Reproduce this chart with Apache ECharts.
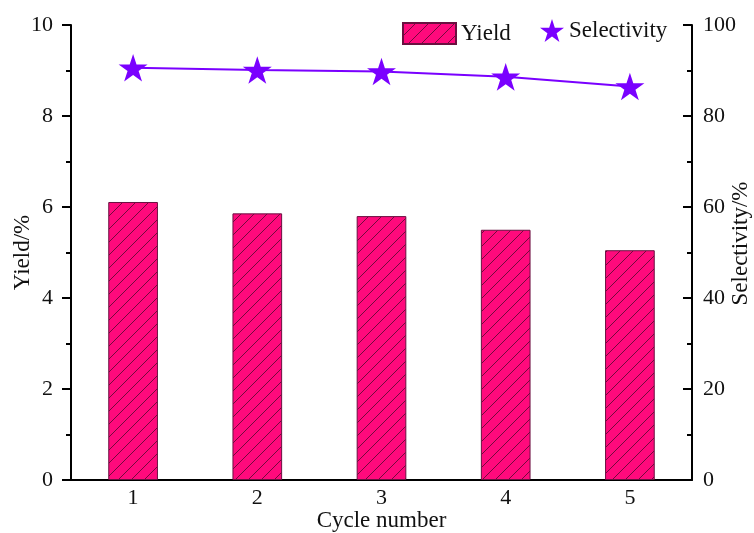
<!DOCTYPE html>
<html>
<head>
<meta charset="utf-8">
<script src="https://cdn.jsdelivr.net/npm/echarts@6/dist/echarts.min.js"></script>
<style>
  html, body { margin: 0; padding: 0; background: #fff; }
  #chart { width: 754px; height: 533px; }
</style>
</head>
<body>
<div id="chart"></div>
<script>
// Catalyst reuse data: yield and selectivity per cycle
const cycles = ['1', '2', '3', '4', '5'];
const yieldValues = [6.11, 5.86, 5.80, 5.50, 5.05];
const selectivityValues = [90.6, 90.1, 89.8, 88.6, 86.5];
const yieldTicks = { min: 0, max: 10, interval: 2 };
const selectivityTicks = { min: 0, max: 100, interval: 20 };

const FONT = '"Liberation Serif", "Times New Roman", serif';
const PINK = '#ff0a7c';
const VIOLET = '#7a00ff';
const STAR = 'path://M50,0 L61.2,34.5 L97.6,34.5 L68.2,55.9 L79.4,90.5 L50,69.1 L20.6,90.5 L31.8,55.9 L2.4,34.5 L38.8,34.5 Z';

// Diagonal hatch fill for the bars
function hatchPattern() {
  const s = 13;
  const c = document.createElement('canvas');
  c.width = s; c.height = s;
  const g = c.getContext('2d');
  g.fillStyle = PINK;
  g.fillRect(0, 0, s, s);
  g.strokeStyle = 'rgba(90,10,50,0.85)';
  g.lineWidth = 1;
  g.beginPath();
  g.moveTo(-1, s + 1); g.lineTo(s + 1, -1);
  g.moveTo(-1, 1); g.lineTo(1, -1);
  g.moveTo(s - 1, s + 1); g.lineTo(s + 1, s - 1);
  g.stroke();
  return c;
}
const hatch = { image: hatchPattern(), repeat: 'repeat' };

const chart = echarts.init(document.getElementById('chart'), null, { renderer: 'canvas' });

const tickText = { fontFamily: FONT, fontSize: 22, color: '#111' };
const nameText = { fontFamily: FONT, fontSize: 23, color: '#111' };

chart.setOption({
  animation: false,
  backgroundColor: '#fff',
  grid: { left: 71, right: 62, top: 25, bottom: 53, containLabel: false, outerBoundsMode: 'none' },
  legend: [
    {
      data: [{ name: 'Yield', icon: 'rect' }],
      left: 397, top: 17,
      itemWidth: 53, itemHeight: 21,
      textStyle: { fontFamily: FONT, fontSize: 23, color: '#111' }
    },
    {
      data: [{ name: 'Selectivity', icon: STAR }],
      left: 535, top: 14,
      itemWidth: 24, itemHeight: 23,
      textStyle: { fontFamily: FONT, fontSize: 23, color: '#111' }
    }
  ],
  xAxis: {
    type: 'category',
    data: cycles,
    name: 'Cycle number',
    nameLocation: 'middle',
    nameGap: 29,
    nameMoveOverlap: false,
    nameTextStyle: nameText,
    axisLine: { lineStyle: { color: '#000', width: 2 } },
    axisTick: { alignWithLabel: true, length: 7, lineStyle: { color: '#000', width: 2 } },
    axisLabel: { ...tickText, margin: 7 },
    splitLine: { show: false }
  },
  yAxis: [
    {
      type: 'value',
      position: 'left',
      min: yieldTicks.min, max: yieldTicks.max, interval: yieldTicks.interval,
      name: 'Yield/%',
      nameLocation: 'middle',
      nameRotate: 90,
      nameGap: 37,
      nameMoveOverlap: false,
      nameTextStyle: nameText,
      axisLine: { show: true, lineStyle: { color: '#000', width: 2 } },
      axisTick: { show: true, length: 9, lineStyle: { color: '#000', width: 2 } },
      minorTick: { show: true, splitNumber: 2, length: 5, lineStyle: { color: '#000', width: 2 } },
      axisLabel: { ...tickText, margin: 18 },
      splitLine: { show: false }
    },
    {
      type: 'value',
      position: 'right',
      min: selectivityTicks.min, max: selectivityTicks.max, interval: selectivityTicks.interval,
      name: 'Selectivity/%',
      nameLocation: 'middle',
      nameRotate: 90,
      nameGap: 37,
      nameMoveOverlap: false,
      nameTextStyle: { ...nameText, padding: [0, 0, 0, 18] },
      axisLine: { show: true, lineStyle: { color: '#000', width: 2 } },
      axisTick: { show: true, inside: true, length: 9, lineStyle: { color: '#000', width: 2 } },
      minorTick: { show: true, splitNumber: 2, length: 5, lineStyle: { color: '#000', width: 2 } },
      axisLabel: { ...tickText, margin: 11 },
      splitLine: { show: false }
    }
  ],
  series: [
    {
      name: 'Yield',
      type: 'bar',
      yAxisIndex: 0,
      data: yieldValues,
      barWidth: '40%',
      itemStyle: { color: hatch, borderColor: '#6a1040', borderWidth: 1 }
    },
    {
      name: 'Selectivity',
      type: 'line',
      yAxisIndex: 1,
      data: selectivityValues,
      symbol: STAR,
      symbolSize: 29,
      symbolKeepAspect: true,
      z: 5,
      itemStyle: { color: VIOLET },
      lineStyle: { color: VIOLET, width: 2 }
    }
  ]
});
</script>
</body>
</html>
